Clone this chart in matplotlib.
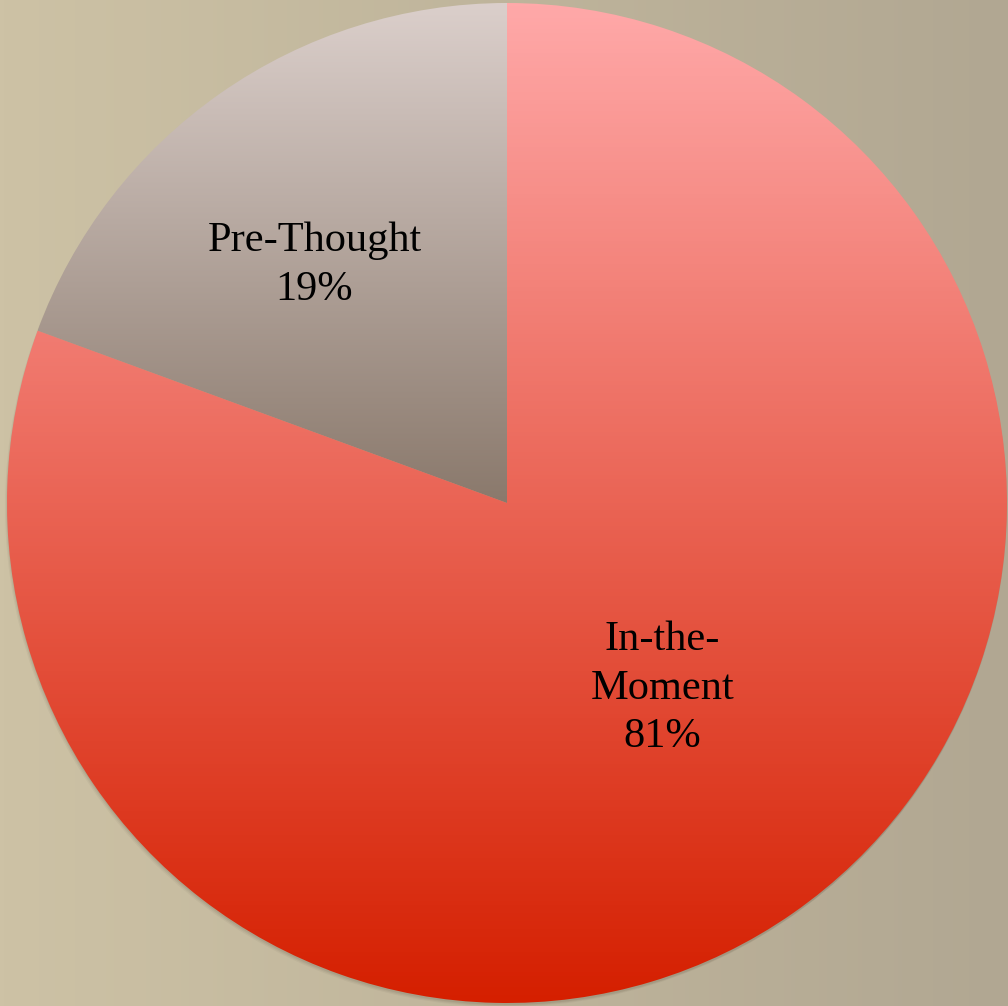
import numpy as np
import matplotlib.pyplot as plt
from matplotlib.colors import LinearSegmentedColormap
from matplotlib.patches import Circle

# Datos del gráfico
categorias = ["Pre-Thought", "In-the-\nMoment"]
porcentajes = [19.4, 80.6]
# colores de degradado (arriba, abajo) de cada sector
degradados = [("#DBCFCB", "#8A796C"), ("#FFA9A9", "#D51F00")]

W, H = 1008, 1006
fig = plt.figure(figsize=(W / 100, H / 100), dpi=100)
ax = fig.add_axes([0, 0, 1, 1])

# fondo con degradado horizontal
fondo = LinearSegmentedColormap.from_list("fondo", ["#CDC2A5", "#B1A792"])
ax.imshow(np.linspace(0, 1, 256).reshape(1, -1), cmap=fondo, aspect="auto",
          extent=(0, W, 0, H), zorder=0)

cx, cy, R = 507, 503, 500

# sombra suave del pastel
for i, a in enumerate([0.05, 0.07, 0.09]):
    ax.add_patch(Circle((cx - 2 + i, cy - 4 + i), R, color="#4a4030", alpha=a,
                        lw=0, zorder=1))

wedges, _ = ax.pie(porcentajes, startangle=90, counterclock=True,
                   center=(cx, cy), radius=R, wedgeprops=dict(lw=0))

for w, (c1, c2) in zip(wedges, degradados):
    w.set_facecolor("none")
    w.set_zorder(2)
    bb = w.get_path().get_extents(w.get_patch_transform())
    cmap = LinearSegmentedColormap.from_list("g", [c2, c1])
    im = ax.imshow(np.linspace(0, 1, 256).reshape(-1, 1), cmap=cmap,
                   aspect="auto", origin="lower",
                   extent=(bb.x0, bb.x1, bb.y0, bb.y1), zorder=2)
    im.set_clip_path(w)

# etiquetas
posiciones = [(0.612, 129.0), (0.484, -50.0)]
for cat, p, (r, ang) in zip(categorias, porcentajes, posiciones):
    x = cx + r * R * np.cos(np.radians(ang))
    y = cy + r * R * np.sin(np.radians(ang))
    ax.text(x, y, f"{cat}\n{p:.0f}%", ha="center", va="center", fontsize=30.5,
            family="Liberation Serif", linespacing=1.33, zorder=5)

ax.set_xlim(0, W)
ax.set_ylim(0, H)
ax.set_aspect("auto")
ax.axis("off")

fig.savefig("out.png", dpi=100)
